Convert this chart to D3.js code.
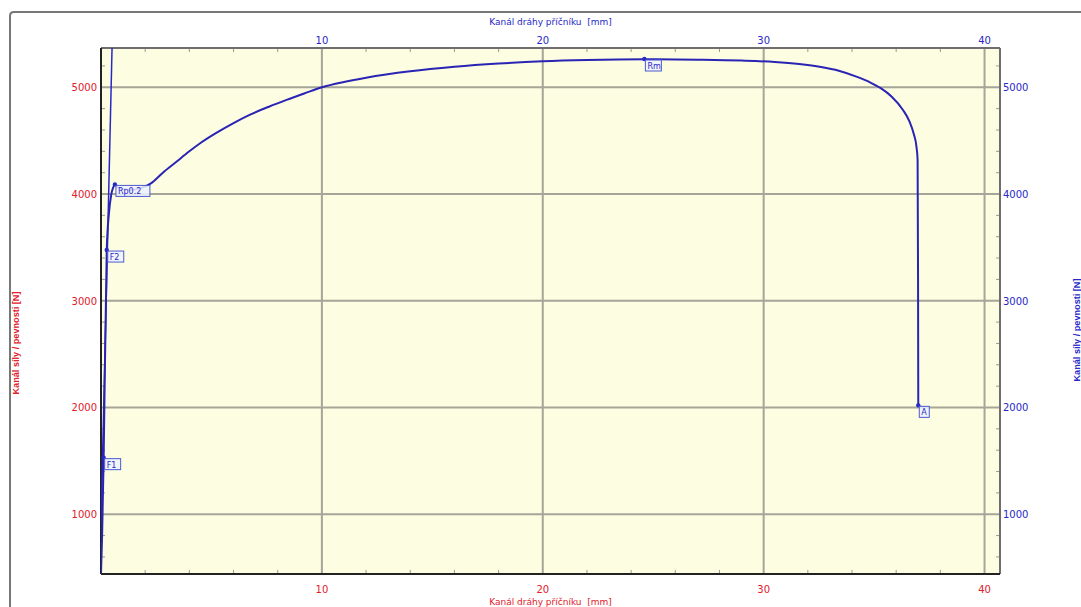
<!DOCTYPE html>
<html>
<head>
<meta charset="utf-8">
<script src="https://cdn.jsdelivr.net/npm/d3@7"></script>
<style>
  body { margin: 0; background: #fff; }
  svg { display: block; font-family: "DejaVu Sans", Verdana, sans-serif; }
  text { white-space: pre; }
</style>
</head>
<body>
<div id="chart"></div>
<script>
// measured curve: travel [mm] vs force [N]
const travel = [0, 0.05, 0.12, 0.26, 0.36, 0.46, 0.55, 0.63, 0.77, 1.0, 1.4, 1.8, 2.26, 2.8, 3.4, 4.0, 4.52,
  5.2, 6.0, 6.8, 7.6, 8.4, 9.2, 10, 11, 12, 14, 16, 18, 20, 22, 24.6, 27, 29, 30.5, 31.6, 32.6,
  33.4, 34.2, 34.8, 35.3, 35.8, 36.3, 36.6, 36.8, 36.92, 36.97, 36.99, 37.0];
const force = [440, 800, 1530, 3475, 3820, 3990, 4060, 4090, 4060, 4045, 4040, 4055, 4100, 4200, 4300, 4400, 4480,
  4570, 4665, 4748, 4818, 4882, 4942, 5000, 5050, 5090, 5150, 5192, 5222, 5243, 5255, 5262, 5258, 5250, 5237, 5218, 5190,
  5155, 5100, 5048, 4992, 4912, 4790, 4680, 4560, 4440, 4320, 3200, 2020];

// elastic line
const lineTravel = [0, 0.5];
const lineForce = [900, 5368];

// evaluated points
const markNames = ["F1", "F2", "Rp0.2", "Rm", "A"];
const markTravel = [0.12, 0.26, 0.63, 24.6, 37.0];
const markForce = [1530, 3475, 4090, 5265, 2020];

const xTicks = [10, 20, 30, 40];
const yTicks = [1000, 2000, 3000, 4000, 5000];
const xTitle = "Kanál dráhy příčníku  [mm]";
const yTitle = "Kanál síly / pevnosti [N]";

const W = 1081, H = 607;
const pl = 101, pr = 1000, pt = 48, pb = 574;
const red = "#e0202a", blue = "#2828c8";

const x = d3.scaleLinear().domain([0, 40.7]).range([pl, pr]);
const y = d3.scaleLinear().domain([440, 5368]).range([pb, pt]);

const svg = d3.select("#chart").append("svg").attr("width", W).attr("height", H);

// outer frame
svg.append("path")
  .attr("d", `M10,${H} L10,16 Q10,12 14,12 L${W},12`)
  .attr("fill", "none").attr("stroke", "#777").attr("stroke-width", 2);

// plot background
svg.append("rect")
  .attr("x", pl).attr("y", pt)
  .attr("width", pr - pl).attr("height", pb - pt)
  .attr("fill", "#fdfde1");

// grid
svg.append("g").selectAll("line").data(xTicks).join("line")
  .attr("x1", d => x(d)).attr("x2", d => x(d))
  .attr("y1", pt).attr("y2", pb)
  .attr("stroke", "#a5a598").attr("stroke-width", 2);
svg.append("g").selectAll("line").data(yTicks).join("line")
  .attr("x1", pl).attr("x2", pr)
  .attr("y1", d => y(d)).attr("y2", d => y(d))
  .attr("stroke", "#a5a598").attr("stroke-width", 2);

// inner minor ticks
const xMinor = d3.range(2, 41, 2).filter(d => d % 10 !== 0);
const yMinor = d3.range(600, 5368, 200).filter(d => d % 1000 !== 0);
const ticks = svg.append("g").attr("stroke", "#999").attr("stroke-width", 1);
ticks.append("g").selectAll("line").data(xMinor).join("line")
  .attr("x1", d => x(d)).attr("x2", d => x(d)).attr("y1", pt).attr("y2", pt + 4);
ticks.append("g").selectAll("line").data(xMinor).join("line")
  .attr("x1", d => x(d)).attr("x2", d => x(d)).attr("y1", pb).attr("y2", pb - 4);
ticks.append("g").selectAll("line").data(yMinor).join("line")
  .attr("x1", pl).attr("x2", pl + 4).attr("y1", d => y(d)).attr("y2", d => y(d));
ticks.append("g").selectAll("line").data(yMinor).join("line")
  .attr("x1", pr).attr("x2", pr - 4).attr("y1", d => y(d)).attr("y2", d => y(d));

// plot border
svg.append("line").attr("x1", pl).attr("x2", pr).attr("y1", pt).attr("y2", pt)
  .attr("stroke", "#6e6e6e").attr("stroke-width", 2);
svg.append("line").attr("x1", pr).attr("x2", pr).attr("y1", pt).attr("y2", pb)
  .attr("stroke", "#6e6e6e").attr("stroke-width", 2);
svg.append("line").attr("x1", pl).attr("x2", pr).attr("y1", pb).attr("y2", pb)
  .attr("stroke", "#222").attr("stroke-width", 2);
svg.append("line").attr("x1", pl).attr("x2", pl).attr("y1", pt).attr("y2", pb)
  .attr("stroke", "#222").attr("stroke-width", 2);

// tick labels
svg.append("g").selectAll("text").data(xTicks).join("text")
  .attr("x", d => x(d)).attr("y", 44).attr("text-anchor", "middle")
  .attr("font-size", 10).attr("fill", blue).text(d => d);
svg.append("g").selectAll("text").data(xTicks).join("text")
  .attr("x", d => x(d)).attr("y", 593).attr("text-anchor", "middle")
  .attr("font-size", 10).attr("fill", red).text(d => d);
svg.append("g").selectAll("text").data(yTicks).join("text")
  .attr("x", 97).attr("y", d => y(d) + 4).attr("text-anchor", "end")
  .attr("font-size", 10).attr("fill", red).text(d => d);
svg.append("g").selectAll("text").data(yTicks).join("text")
  .attr("x", 1003).attr("y", d => y(d) + 4).attr("text-anchor", "start")
  .attr("font-size", 10).attr("fill", blue).text(d => d);

// axis titles
svg.append("text").attr("x", (pl + pr) / 2).attr("y", 25).attr("text-anchor", "middle")
  .attr("font-size", 9).attr("fill", blue).text(xTitle);
svg.append("text").attr("x", (pl + pr) / 2).attr("y", 605).attr("text-anchor", "middle")
  .attr("font-size", 9).attr("fill", red).text(xTitle);
svg.append("text").attr("transform", "translate(19,343) rotate(-90)").attr("text-anchor", "middle")
  .attr("font-size", 9).attr("font-family", "Liberation Sans, Arial, sans-serif")
  .attr("font-weight", "bold").attr("fill", red)
  .attr("textLength", 103).attr("lengthAdjust", "spacingAndGlyphs").text(yTitle);
svg.append("text").attr("transform", "translate(1080,330) rotate(-90)").attr("text-anchor", "middle")
  .attr("font-size", 9).attr("font-family", "Liberation Sans, Arial, sans-serif")
  .attr("font-weight", "bold").attr("fill", blue)
  .attr("textLength", 103).attr("lengthAdjust", "spacingAndGlyphs").text(yTitle);

// curves
svg.append("clipPath").attr("id", "clip").append("rect")
  .attr("x", pl).attr("y", pt).attr("width", pr - pl).attr("height", pb - pt);
const plot = svg.append("g").attr("clip-path", "url(#clip)");

plot.append("path")
  .datum(lineTravel.map((t, i) => [t, lineForce[i]]))
  .attr("d", d3.line().x(d => x(d[0])).y(d => y(d[1])))
  .attr("fill", "none").attr("stroke", blue).attr("stroke-width", 1.5);
plot.append("path")
  .datum(travel.map((t, i) => [t, force[i]]))
  .attr("d", d3.line().x(d => x(d[0])).y(d => y(d[1])).curve(d3.curveMonotoneX))
  .attr("fill", "none").attr("stroke", "#2a24b4").attr("stroke-width", 2);

// markers
const marks = svg.append("g");
markNames.forEach((name, i) => {
  const px = x(markTravel[i]), py = y(markForce[i]);
  marks.append("circle").attr("cx", px).attr("cy", py).attr("r", 2.2).attr("fill", blue);
  const w = name.length * 6 + 4;
  const bx = px + 1, by = py + 1;
  marks.append("rect").attr("x", bx).attr("y", by).attr("width", w).attr("height", 11)
    .attr("fill", "#eef2ff").attr("fill-opacity", 0.85)
    .attr("stroke", "#4a5ad0").attr("stroke-width", 1);
  marks.append("text").attr("x", bx + 2).attr("y", by + 9)
    .attr("font-size", 8).attr("fill", blue).text(name);
});
</script>
</body>
</html>
